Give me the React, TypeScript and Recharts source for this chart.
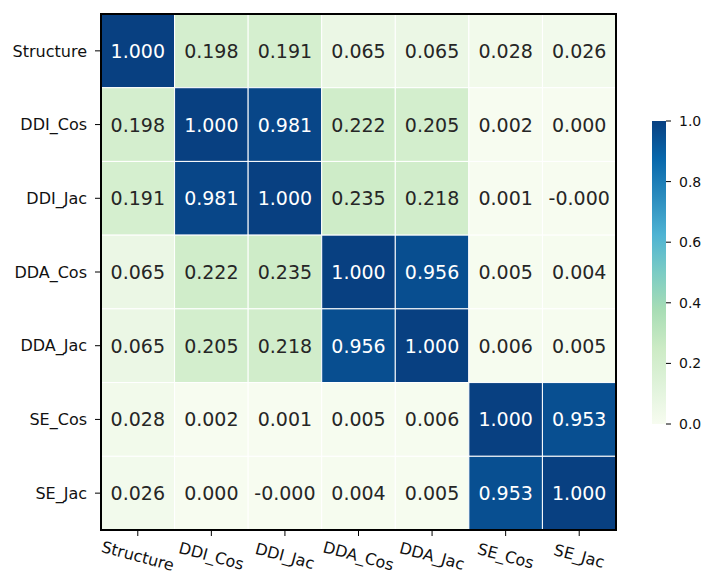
import React from "react";
import {
  Bar,
  BarChart,
  Scatter,
  ScatterChart,
  XAxis,
  YAxis,
} from "recharts";

const labels = ["Structure", "DDI_Cos", "DDI_Jac", "DDA_Cos", "DDA_Jac", "SE_Cos", "SE_Jac"];

const structure = [1.0, 0.198, 0.191, 0.065, 0.065, 0.028, 0.026];
const ddiCos = [0.198, 1.0, 0.981, 0.222, 0.205, 0.002, 0.0];
const ddiJac = [0.191, 0.981, 1.0, 0.235, 0.218, 0.001, -0.0001];
const ddaCos = [0.065, 0.222, 0.235, 1.0, 0.956, 0.005, 0.004];
const ddaJac = [0.065, 0.205, 0.218, 0.956, 1.0, 0.006, 0.005];
const seCos = [0.028, 0.002, 0.001, 0.005, 0.006, 1.0, 0.953];
const seJac = [0.026, 0.0, -0.0001, 0.004, 0.005, 0.953, 1.0];

const colorbarTicks = [0, 0.2, 0.4, 0.6, 0.8, 1.0];

const rows = [structure, ddiCos, ddiJac, ddaCos, ddaJac, seCos, seJac];
const cells = rows.flatMap((row, i) => row.map((v, j) => ({ x: j, y: i, v })));
const idx = labels.map((_, i) => i);
// centre of the grid, used to draw the black frame on top of the cells
const frameCentre = [{ x: (labels.length - 1) / 2, y: (labels.length - 1) / 2 }];

// GnBu colormap stops
const gnbu = ["#f7fcf0", "#e0f3db", "#ccebc5", "#a8ddb5", "#7bccc4", "#4eb3d3", "#2b8cbe", "#0868ac", "#084081"];

const hex = (h: string) => [1, 3, 5].map((k) => parseInt(h.slice(k, k + 2), 16));

function colorFor(v: number) {
  const t = Math.min(1, Math.max(0, v)) * (gnbu.length - 1);
  const i = Math.min(gnbu.length - 2, Math.floor(t));
  const f = t - i;
  const a = hex(gnbu[i]);
  const b = hex(gnbu[i + 1]);
  const c = a.map((x, k) => Math.round(x + (b[k] - x) * f));
  return `rgb(${c[0]},${c[1]},${c[2]})`;
}

const FONT = "DejaVu Sans, sans-serif";
const CELL_W = 515 / 7;
const CELL_H = 516 / 7;

function HeatCell(props: any) {
  const { cx, cy, payload } = props;
  const v = payload.v as number;
  const dark = v > 0.6;
  return (
    <g>
      <rect
        x={cx - CELL_W / 2}
        y={cy - CELL_H / 2}
        width={CELL_W}
        height={CELL_H}
        fill={colorFor(v)}
        stroke="#ffffff"
        strokeWidth={1}
      />
      <text
        x={cx}
        y={cy}
        textAnchor="middle"
        dominantBaseline="central"
        fontFamily={FONT}
        fontSize={19}
        fill={dark ? "#ffffff" : "#262626"}
      >
        {v.toFixed(3)}
      </text>
    </g>
  );
}

function Frame(props: any) {
  const { cx, cy } = props;
  const w = CELL_W * labels.length;
  const h = CELL_H * labels.length;
  return <rect x={cx - w / 2} y={cy - h / 2} width={w} height={h} fill="none" stroke="#000" strokeWidth={2} />;
}

function XTick(props: any) {
  const { x, y, payload } = props;
  const ty = y + 18;
  return (
    <text
      x={x}
      y={ty}
      textAnchor="middle"
      dominantBaseline="central"
      transform={`rotate(15, ${x}, ${ty})`}
      fontFamily={FONT}
      fontSize={16}
      fill="#111"
    >
      {labels[payload.value]}
    </text>
  );
}

export default function App() {
  return (
    <div style={{ position: "absolute", left: 0, top: 0, width: 708, height: 574, background: "#fff" }}>
      <ScatterChart width={708} height={574} margin={{ top: 14, right: 92, bottom: 0, left: 0 }}>
        <XAxis
          type="number"
          dataKey="x"
          domain={[-0.5, 6.5]}
          ticks={idx}
          interval={0}
          height={44}
          axisLine={false}
          tickLine={{ stroke: "#000" }}
          tickSize={6}
          tick={<XTick />}
        />
        <YAxis
          type="number"
          dataKey="y"
          domain={[-0.5, 6.5]}
          ticks={idx}
          interval={0}
          reversed
          width={101}
          axisLine={false}
          tickLine={{ stroke: "#000" }}
          tickSize={6}
          tickMargin={8}
          tickFormatter={(i: number) => labels[i]}
          tick={{ fontFamily: FONT, fontSize: 16, fill: "#111" }}
        />
        <Scatter data={cells} shape={<HeatCell />} isAnimationActive={false} />
        <Scatter data={frameCentre} shape={<Frame />} isAnimationActive={false} />
      </ScatterChart>
      <div style={{ position: "absolute", left: 640, top: 111 }}>
        <BarChart
          width={80}
          height={323}
          data={[{ v: 1 }]}
          margin={{ top: 10, right: 0, bottom: 10, left: 12 }}
          barCategoryGap={0}
        >
          <defs>
            <linearGradient id="gnbu" x1="0" y1="1" x2="0" y2="0">
              {gnbu.map((c, i) => (
                <stop key={c} offset={`${(i / (gnbu.length - 1)) * 100}%`} stopColor={c} />
              ))}
            </linearGradient>
          </defs>
          <XAxis hide />
          <YAxis
            orientation="right"
            domain={[0, 1]}
            ticks={colorbarTicks}
            width={54}
            axisLine={false}
            tickLine={{ stroke: "#000" }}
            tickSize={5}
            tickMargin={8}
            tickFormatter={(t: number) => t.toFixed(1)}
            tick={{ fontFamily: FONT, fontSize: 14, fill: "#111" }}
          />
          <Bar dataKey="v" fill="url(#gnbu)" isAnimationActive={false} />
        </BarChart>
      </div>
    </div>
  );
}
